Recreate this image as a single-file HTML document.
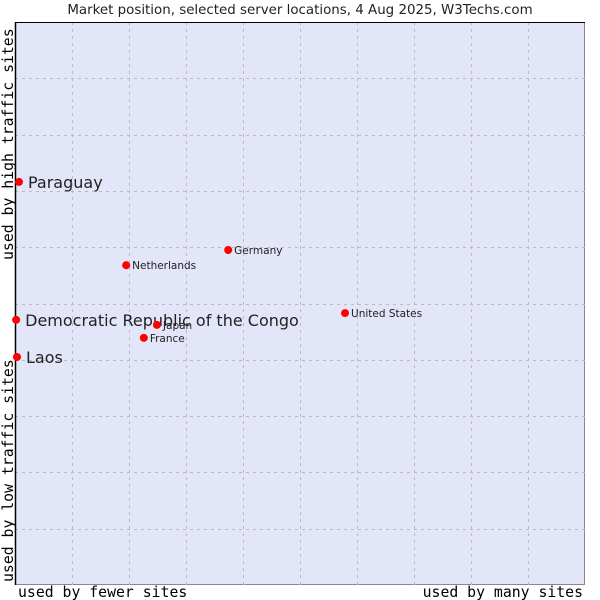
<!DOCTYPE html>
<html><head><meta charset="utf-8"><style>
body{margin:0;background:#fff;width:600px;height:600px;overflow:hidden}
svg{display:block}
</style></head><body>
<svg id="chart" width="600" height="600">
<text x="300" y="14" text-anchor="middle" font-family="'DejaVu Sans',sans-serif" font-size="13.4" fill="#222">Market position, selected server locations, 4 Aug 2025, W3Techs.com</text>
<rect x="15.5" y="22.5" width="569" height="562" fill="#e3e5f8" stroke="#888" stroke-width="1"/>
<g id="grid"></g>
<line x1="15.5" y1="22" x2="15.5" y2="585" stroke="#000" stroke-width="1.5"/>
<line x1="15" y1="22.5" x2="585" y2="22.5" stroke="#000" stroke-width="1"/>
<g id="points"></g>
<text x="18" y="597" font-family="'DejaVu Sans Mono','Liberation Mono',monospace" font-size="14.8" fill="#000">used by fewer sites</text>
<text x="583" y="597" text-anchor="end" font-family="'DejaVu Sans Mono','Liberation Mono',monospace" font-size="14.8" fill="#000">used by many sites</text>
<text transform="translate(13,582) rotate(-90)" font-family="'DejaVu Sans Mono','Liberation Mono',monospace" font-size="14.8" fill="#000">used by low traffic sites</text>
<text transform="translate(13,260) rotate(-90)" font-family="'DejaVu Sans Mono','Liberation Mono',monospace" font-size="14.8" fill="#000">used by high traffic sites</text>
</svg>
<script>
const names = ["Paraguay","Netherlands","Germany","United States","Democratic Republic of the Congo","Japan","France","Laos"];
const xValues = [0.7,19.5,37.4,57.9,0.2,24.9,22.6,0.35];
const yValues = [71.6,56.8,59.5,48.3,47.1,46.2,43.9,40.5];
const bigLabel = [true,false,false,false,true,false,false,true];
const gridTicks = [10,20,30,40,50,60,70,80,90];
const X0=15,X1=585,Y0=585,Y1=22;
function sx(v){return X0+(X1-X0)*v/100;}
function sy(v){return Y0-(Y0-Y1)*v/100;}
const NS="http://www.w3.org/2000/svg";
const grid=document.getElementById('grid');
gridTicks.forEach(t=>{
  const v=document.createElementNS(NS,'line');
  v.setAttribute('x1',Math.round(sx(t))+0.5);v.setAttribute('x2',Math.round(sx(t))+0.5);
  v.setAttribute('y1',Y1);v.setAttribute('y2',Y0);
  v.setAttribute('stroke','#bbb');v.setAttribute('stroke-dasharray','3,4');
  
  
  grid.appendChild(v);
  const h=document.createElementNS(NS,'line');
  h.setAttribute('y1',Math.round(sy(t))+0.5);h.setAttribute('y2',Math.round(sy(t))+0.5);
  h.setAttribute('x1',X0);h.setAttribute('x2',X1);
  h.setAttribute('stroke','#bbb');h.setAttribute('stroke-dasharray','3,4');
  
  
  grid.appendChild(h);
});
const pts=document.getElementById('points');
names.forEach((n,i)=>{
  const cx=sx(xValues[i]),cy=sy(yValues[i]);
  const c=document.createElementNS(NS,'circle');
  c.setAttribute('cx',cx);c.setAttribute('cy',cy);c.setAttribute('r',4);
  c.setAttribute('fill','#f00');
  
  
  pts.appendChild(c);
  const t=document.createElementNS(NS,'text');
  t.setAttribute('x',cx+(bigLabel[i]?9:6));
  t.setAttribute('y',cy+(bigLabel[i]?6:4));
  t.setAttribute('font-family',"'DejaVu Sans',sans-serif");
  t.setAttribute('font-size',bigLabel[i]?'16':'10.5');
  t.setAttribute('fill','#222');
  t.textContent=n;
  
  
  pts.appendChild(t);
});
</script>
</body></html>
